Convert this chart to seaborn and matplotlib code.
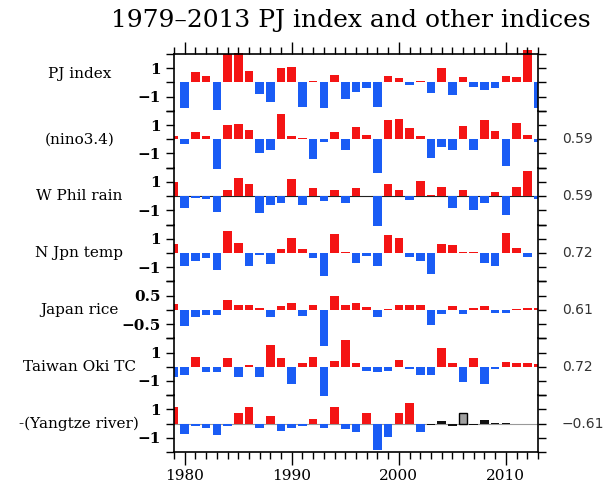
import numpy as np
import pandas as pd
import matplotlib
matplotlib.use("Agg")
import matplotlib.pyplot as plt
from matplotlib.transforms import Bbox, TransformedBbox
import seaborn as sns

# years 1979-2013
years = list(range(1979, 2014))

pj_index = [0.05, -1.8, 0.7, 0.45, -1.95, 2.0, 2.07, 0.8, -0.8, -1.35, 1.0, 1.1, -1.7, 0.1, -1.8,
            0.55, -1.2, -0.65, -0.4, -1.7, 0.45, 0.3, -0.2, 0.1, -0.75, 1.0, -0.9, 0.35, -0.3, -0.5,
            -0.4, 0.45, 0.35, 2.3, -1.8]
nino34 = [0.2, -0.3, 0.5, 0.25, -2.1, 1.0, 1.1, 0.65, -1.0, -0.75, 1.8, 0.25, 0.12, -1.4, -0.2,
          0.5, -0.75, 0.85, 0.3, -2.4, 1.35, 1.45, 0.8, 0.25, -1.3, -0.55, -0.75, 0.95, -0.75, 1.35,
          0.55, -1.9, 1.15, 0.3, -0.2]
wphil_rain = [1.0, -0.8, -0.1, -0.2, -1.1, 0.45, 1.3, 0.85, -1.2, -0.6, -0.45, 1.2, -0.6, 0.55, -0.35,
              0.4, -0.5, 0.55, 0.04, -2.1, 0.85, 0.4, -0.3, 1.1, 0.1, 0.65, -0.8, 0.45, -1.0, -0.5,
              0.3, -1.3, 0.65, 1.8, -0.2]
njpn_temp = [0.6, -0.9, -0.55, -0.35, -1.2, 1.55, 0.7, -0.9, -0.15, -0.75, 0.25, 1.05, 0.25, -0.35, -1.6,
             1.35, 0.1, -0.7, -0.2, -0.9, 1.25, 1.05, -0.25, -0.55, -1.5, 0.6, 0.55, 0.1, 0.1, -0.7,
             -0.9, 1.4, 0.35, -0.25, 0.02]
japan_rice = [0.2, -0.57, -0.25, -0.18, -0.18, 0.35, 0.18, 0.18, 0.06, -0.25, 0.13, 0.23, -0.2, 0.16, -1.28,
              0.47, 0.16, 0.23, 0.1, -0.25, 0.03, 0.18, 0.16, 0.16, -0.52, -0.13, 0.13, -0.15, 0.05, 0.13,
              -0.1, -0.1, 0.03, 0.06, 0.08]
taiwan_tc = [-0.7, -0.6, 0.7, -0.4, -0.35, 0.6, -0.7, 0.15, -0.7, 1.5, 0.6, -1.25, 0.25, 0.7, -2.05,
             0.37, 1.9, 0.25, -0.33, -0.4, -0.33, 0.5, -0.15, -0.55, -0.6, 1.3, 0.25, -1.05, 0.6, -1.25,
             -0.15, 0.33, 0.25, 0.25, 0.2]
yangtze = [1.15, -0.75, -0.2, -0.3, -0.8, -0.2, 0.75, 1.15, -0.3, 0.55, -0.5, -0.3, -0.2, 0.3, -0.3,
           1.15, -0.4, -0.6, 0.75, -1.85, -0.95, 0.75, 1.45, -0.6, -0.1, 0.2, -0.15, 0.75, -0.1, 0.25,
           0.05, 0.05, np.nan, np.nan, np.nan]
# 2003 onward the Yangtze values are drawn in black, 2006 in grey
yangtze_black_from = 2003
yangtze_grey_year = 2006

panel_names = ["PJ index", "(nino3.4)", "W Phil rain", "N Jpn temp", "Japan rice",
               "Taiwan Oki TC", "-(Yangtze river)"]
corr_labels = [None, "0.59", "0.59", "0.72", "0.61", "0.72", "\u22120.61"]
series = [pj_index, nino34, wphil_rain, njpn_temp, japan_rice, taiwan_tc, yangtze]

RED = "#f41414"
BLUE = "#1a5cf5"
palette = {"pos": RED, "neg": BLUE, "blk": "#111111", "gry": "#a0a0a0"}

fig = plt.figure(figsize=(6.16, 4.87), dpi=100)
left, right, top, bottom = 174 / 616, 538 / 616, 1 - 54 / 487, 1 - 452 / 487
ph = (top - bottom) / 7

serif = "DejaVu Serif"
for k, (name, vals) in enumerate(zip(panel_names, series)):
    ax = fig.add_axes([left, top - (k + 1) * ph, right - left, ph])
    ax.patch.set_visible(False)
    df = pd.DataFrame({"year": years, "val": vals})
    df["sign"] = np.where(df["val"] >= 0, "pos", "neg")
    if k == 6:
        df.loc[df["year"] >= yangtze_black_from, "sign"] = "blk"
        df.loc[df["year"] == yangtze_grey_year, "sign"] = "gry"
    df = df.dropna()
    sns.barplot(data=df, x="year", y="val", hue="sign", palette=palette, native_scale=True,
                dodge=False, width=0.8, legend=False, ax=ax, linewidth=0, saturation=1)
    lim = 1.0 if k == 4 else 2.0
    ax.set_xlim(1979, 2013)
    ax.set_ylim(-lim, lim)
    # let bars spill into neighbouring panels but clip at the left/right edges
    clip = TransformedBbox(Bbox([[1979, -10], [2013, 10]]), ax.transData)
    for p in ax.patches:
        p.set_clip_path(None)
        p.set_clip_box(clip)
        if p.get_facecolor()[0] > 0.5 and p.get_facecolor()[1] > 0.5:
            p.set_edgecolor("black")
            p.set_linewidth(1.0)
    if k == 2:
        ax.axhline(0, color="#222222", lw=0.8, zorder=0)
    if k == 6:
        ax.axhline(0, color="#999999", lw=0.8, zorder=0)

    if k == 4:
        ax.set_yticks([-1, -0.5, 0, 0.5, 1])
        ax.set_yticklabels(["", "\u22120.5", "", "0.5", ""])
    else:
        ax.set_yticks([-2, -1, 0, 1, 2])
        ax.set_yticklabels(["", "\u22121", "", "1", ""])
    ax.tick_params(axis="y", left=True, right=True, direction="out", length=6, width=1,
                   labelsize=11)
    for t in ax.get_yticklabels():
        t.set_family(serif)
        t.set_fontweight("bold")
    ax.set_xlabel("")
    ax.set_ylabel("")

    ax.xaxis.set_major_locator(plt.FixedLocator([1980, 1990, 2000, 2010]))
    ax.xaxis.set_minor_locator(plt.MultipleLocator(1))
    if k == 6:
        ax.tick_params(axis="x", which="major", bottom=True, top=False, length=9, width=1, labelsize=11)
        ax.tick_params(axis="x", which="minor", bottom=True, top=False, length=5, width=1)
        for t in ax.get_xticklabels():
            t.set_family(serif)
    elif k == 0:
        ax.tick_params(axis="x", which="major", bottom=False, top=True, labelbottom=False, length=9, width=1)
        ax.tick_params(axis="x", which="minor", bottom=False, top=True, length=5, width=1)
    else:
        ax.tick_params(axis="x", which="both", bottom=False, top=False, labelbottom=False)

    for s in ["left", "right", "top", "bottom"]:
        ax.spines[s].set_linewidth(1.2)
    if k > 0:
        ax.spines["top"].set_visible(False)
    if k < 6:
        ax.spines["bottom"].set_visible(False)

    ypos = 0.64 if k == 0 else 0.5
    ax.text(-0.26, ypos, name, transform=ax.transAxes, ha="center", va="center",
            family=serif, fontsize=11)
    if corr_labels[k]:
        ax.text(1.065, 0.5, corr_labels[k], transform=ax.transAxes, ha="left", va="center",
                family="DejaVu Sans", fontsize=10, color="#333333")

fig.text(0.57, 0.958, "1979\u20132013 PJ index and other indices", ha="center", va="center",
         family=serif, fontsize=18)

fig.savefig("out.png", dpi=100)
